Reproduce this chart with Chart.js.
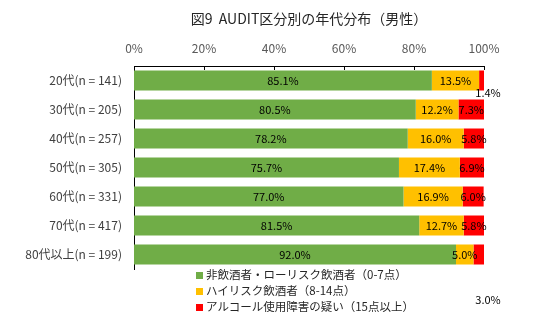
<!DOCTYPE html>
<html lang="ja">
<head>
<meta charset="UTF-8">
<title>図9 AUDIT区分別の年代分布（男性）</title>
<script src="https://cdn.jsdelivr.net/npm/chart.js"></script>
<style>
    body { margin: 0; background: #ffffff; font-family: "Noto Sans CJK JP", sans-serif; }
    .wrap { position: relative; width: 536px; height: 326px; }
    .title { position: absolute; top: 8px; left: 134px; width: 350px; text-align: center; font-size: 14px; color: #262626; }
    .legend { position: absolute; left: 196px; top: 266px; font-size: 11.5px; color: #262626; line-height: 16px; }
    .legend span.box { display: inline-block; width: 7px; height: 7px; margin-right: 3px; vertical-align: 0px; }
</style>
</head>
<body>
<div class="wrap">
    <div class="title">図9&nbsp;&nbsp;AUDIT区分別の年代分布（男性）</div>
    <canvas id="grafico" width="536" height="326"></canvas>
    <div class="legend" id="leyenda"></div>
</div>
<script>
// datos
const categorias = ['20代(n = 141)', '30代(n = 205)', '40代(n = 257)', '50代(n = 305)', '60代(n = 331)', '70代(n = 417)', '80代以上(n = 199)'];
const bajoRiesgo = [85.1, 80.5, 78.2, 75.7, 77.0, 81.5, 92.0];
const altoRiesgo = [13.5, 12.2, 16.0, 17.4, 16.9, 12.7, 5.0];
const sospecha = [1.4, 7.3, 5.8, 6.9, 6.0, 5.8, 3.0];
const series = ['非飲酒者・ローリスク飲酒者（0-7点）', 'ハイリスク飲酒者（8-14点）', 'アルコール使用障害の疑い（15点以上）'];
const colores = ['#70AD47', '#FFC000', '#FF0000'];

// leyenda en html
document.getElementById('leyenda').innerHTML = series.map(function (s, i) {
    return '<div><span class="box" style="background:' + colores[i] + '"></span>' + s + '</div>';
}).join('');

// etiquetas de valor
const etiquetas = {
    id: 'etiquetas',
    afterDatasetsDraw: function (chart) {
        const ctx = chart.ctx;
        ctx.save();
        ctx.font = '11px "Noto Sans CJK JP", sans-serif';
        ctx.fillStyle = '#000000';
        ctx.textAlign = 'center';
        ctx.textBaseline = 'middle';
        const ultimo = chart.data.labels.length - 1;
        chart.data.datasets.forEach(function (ds, i) {
            chart.getDatasetMeta(i).data.forEach(function (bar, j) {
                const txt = ds.data[j].toFixed(1) + '%';
                if (ds.data[j] < 4) {
                    // valores chicos fuera de la barra (el ultimo queda debajo de la leyenda)
                    const dy = j === ultimo ? 45 : 12;
                    ctx.fillText(txt, bar.x + 4, bar.y + dy);
                } else {
                    ctx.fillText(txt, (bar.base + bar.x) / 2, bar.y);
                }
            });
        });
        // marcas del eje superior
        const xs = chart.scales.x;
        const top = chart.chartArea.top;
        ctx.strokeStyle = '#000000';
        ctx.lineWidth = 1;
        ctx.beginPath();
        for (let v = 0; v <= 100; v += 20) {
            const px = Math.round(xs.getPixelForValue(v)) + 0.5;
            ctx.moveTo(px, top);
            ctx.lineTo(px, top + 4);
        }
        ctx.stroke();
        ctx.restore();
    }
};

new Chart(document.getElementById('grafico'), {
    type: 'bar',
    data: {
        labels: categorias,
        datasets: [
            { label: series[0], data: bajoRiesgo, backgroundColor: colores[0] },
            { label: series[1], data: altoRiesgo, backgroundColor: colores[1] },
            { label: series[2], data: sospecha, backgroundColor: colores[2] }
        ]
    },
    options: {
        indexAxis: 'y',
        responsive: false,
        animation: false,
        layout: { padding: { top: 34, right: 52, bottom: 57, left: 0 } },
        datasets: { bar: { categoryPercentage: 1, barPercentage: 0.69 } },
        plugins: {
            legend: { display: false },
            tooltip: { enabled: false }
        },
        scales: {
            x: {
                position: 'top',
                stacked: true,
                min: 0,
                max: 100,
                afterFit: function (scale) { scale.height = 32; },
                ticks: {
                    stepSize: 20,
                    padding: 10,
                    color: '#595959',
                    font: { size: 12, family: '"Noto Sans CJK JP", sans-serif' },
                    callback: function (v) { return v + '%'; }
                },
                grid: { display: false, drawTicks: false },
                border: { display: true, color: '#000000' }
            },
            y: {
                stacked: true,
                afterFit: function (scale) { scale.width = 134; },
                ticks: {
                    padding: 12,
                    color: '#404040',
                    font: { size: 12, family: '"Noto Sans CJK JP", sans-serif' }
                },
                grid: { display: false, drawTicks: false },
                border: { display: true, color: '#000000' }
            }
        }
    },
    plugins: [etiquetas]
});
</script>
</body>
</html>
